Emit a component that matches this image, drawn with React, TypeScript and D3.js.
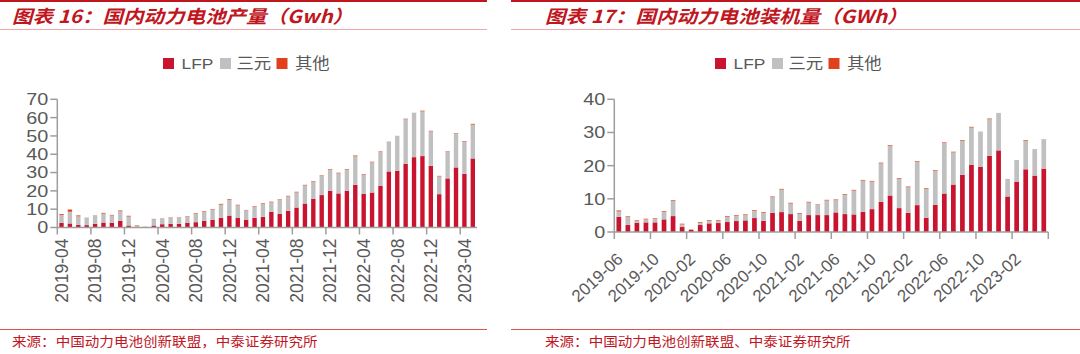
import React from 'react';
import * as d3 from 'd3';

// ---------- Chart 16: production ----------
const prodMonths = [
  '2019-04','2019-05','2019-06','2019-07','2019-08','2019-09','2019-10','2019-11','2019-12',
  '2020-01','2020-02','2020-03','2020-04','2020-05','2020-06','2020-07','2020-08','2020-09','2020-10','2020-11','2020-12',
  '2021-01','2021-02','2021-03','2021-04','2021-05','2021-06','2021-07','2021-08','2021-09','2021-10','2021-11','2021-12',
  '2022-01','2022-02','2022-03','2022-04','2022-05','2022-06','2022-07','2022-08','2022-09','2022-10','2022-11','2022-12',
  '2023-01','2023-02','2023-03','2023-04','2023-05',
];
const prodLFP = [
  2.6, 2.2, 1.5, 1.3, 2.0, 2.7, 2.6, 3.6, 1.1,
  0.3, 0.2, 1.1, 1.8, 2.0, 2.0, 2.6, 2.9, 3.6, 4.2, 5.3, 6.5,
  5.2, 4.3, 5.3, 5.8, 8.5, 7.5, 9.1, 10.9, 13.1, 15.7, 17.7, 20.0,
  18.6, 20.0, 23.3, 18.4, 19.1, 22.8, 30.6, 31.0, 34.8, 38.4, 39.0, 33.7,
  18.2, 26.8, 32.8, 29.3, 37.7,
];
const prodTernary = [
  4.2, 6.4, 4.6, 4.2, 4.6, 4.9, 4.0, 5.3, 4.9,
  0.5, 0.3, 3.4, 2.9, 3.3, 3.3, 3.4, 4.6, 5.0, 5.5, 7.2, 8.5,
  6.9, 5.1, 6.0, 7.2, 5.3, 7.5, 7.9, 8.3, 9.9, 9.3, 10.4, 11.6,
  11.0, 11.6, 15.6, 10.4, 16.5, 18.4, 16.4, 19.1, 24.3, 24.3, 24.4, 18.8,
  9.7, 14.4, 18.3, 17.6, 18.5,
];
const prodOther = [
  0.5, 1.2, 0.5, 0.0, 0.1, 0.4, 0.3, 0.4, 0.4,
  0.3, 0.0, 0.2, 0.2, 0.2, 0.2, 0.2, 0.3, 0.3, 0.3, 0.4, 0.4,
  0.3, 0.2, 0.3, 0.3, 0.3, 0.3, 0.3, 0.3, 0.3, 0.3, 0.3, 0.3,
  0.3, 0.3, 0.4, 0.3, 0.3, 0.3, 0.0, 0.0, 0.3, 0.0, 0.4, 0.3,
  0.3, 0.3, 0.3, 0.3, 0.4,
];
const prodTickLabels = [
  '2019-04','2019-08','2019-12','2020-04','2020-08','2020-12','2021-04',
  '2021-08','2021-12','2022-04','2022-08','2022-12','2023-04',
];
const prodYTicks = [0, 10, 20, 30, 40, 50, 60, 70];

// ---------- Chart 17: installation ----------
const instMonths = [
  '2019-06','2019-07','2019-08','2019-09','2019-10','2019-11','2019-12',
  '2020-01','2020-02','2020-03','2020-04','2020-05','2020-06','2020-07','2020-08','2020-09','2020-10','2020-11','2020-12',
  '2021-01','2021-02','2021-03','2021-04','2021-05','2021-06','2021-07','2021-08','2021-09','2021-10','2021-11','2021-12',
  '2022-01','2022-02','2022-03','2022-04','2022-05','2022-06','2022-07','2022-08','2022-09','2022-10','2022-11','2022-12',
  '2023-01','2023-02','2023-03','2023-04','2023-05',
];
const instLFP = [
  4.6, 2.1, 2.8, 2.9, 2.9, 3.8, 4.8,
  1.5, 0.6, 2.1, 2.6, 2.7, 3.0, 3.3, 3.5, 4.2, 3.4, 5.8, 6.0,
  5.4, 3.4, 5.1, 5.1, 5.1, 5.9, 5.4, 5.3, 6.1, 6.9, 9.1, 11.0,
  7.2, 5.8, 8.1, 4.3, 8.2, 11.6, 14.3, 17.2, 20.3, 19.7, 23.0, 24.6,
  10.7, 15.2, 18.9, 17.0, 19.1,
];
const instTernary = [
  1.6, 2.4, 0.5, 0.9, 1.0, 2.3, 4.6,
  0.8, 0.1, 0.7, 0.8, 0.7, 1.6, 1.6, 1.6, 2.2, 2.4, 4.7, 6.8,
  3.2, 2.1, 3.8, 3.2, 4.4, 3.7, 5.8, 7.2, 9.4, 8.3, 11.6, 15.0,
  8.8, 7.7, 13.0, 8.7, 10.2, 15.2, 9.7, 10.3, 11.2, 10.6, 11.0, 11.3,
  5.3, 6.5, 8.6, 8.0, 8.9,
];
const instOther = [
  0.3, 0.2, 0.2, 0.2, 0.2, 0.2, 0.2,
  0.2, 0.1, 0.2, 0.2, 0.2, 0.2, 0.2, 0.2, 0.2, 0.2, 0.2, 0.2,
  0.2, 0.2, 0.2, 0.1, 0.2, 0.2, 0.2, 0.2, 0.2, 0.2, 0.2, 0.2,
  0.2, 0.2, 0.2, 0.2, 0.2, 0.2, 0.2, 0.2, 0.2, 0.0, 0.2, 0.0,
  0.0, 0.0, 0.2, 0.0, 0.0,
];
const instTickLabels = [
  '2019-06','2019-10','2020-02','2020-06','2020-10','2021-02',
  '2021-06','2021-10','2022-02','2022-06','2022-10','2023-02',
];
const instYTicks = [0, 10, 20, 30, 40];

const seriesNames = ['LFP', '三元', '其他'];
const seriesColors: Record<string, string> = { 'LFP': '#C8142F', '三元': '#C0C0C0', '其他': '#E2401C' };

const RED = '#C0161E';
const GREY_TEXT = '#595959';
const AXIS = '#9E9E9E';
const CJK = '"Noto Sans CJK SC", "Liberation Sans", Arial, sans-serif';
const LATIN = '"Liberation Sans", Arial, sans-serif';

function SText({ x, y, sx = 1.15, children, ...rest }: any) {
  return (
    <text transform={`translate(${x},${y}) scale(${sx},1)`} {...rest}>
      {children}
    </text>
  );
}

function Legend({ x0, cy }: { x0: number; cy: number }) {
  const items = [
    { name: 'LFP', sq: 0, tx: 18.5 },
    { name: '三元', sq: 57, tx: 73.5 },
    { name: '其他', sq: 113.5, tx: 132 },
  ];
  const sq = 11;
  return (
    <g>
      {items.map((it) => (
        <g key={it.name}>
          <rect x={x0 + it.sq} y={cy - sq / 2} width={sq} height={sq} fill={seriesColors[it.name]} />
          <SText x={x0 + it.tx} y={cy + 5.5} sx={1.12} fontSize={15.5} fill={GREY_TEXT}
            fontFamily={it.name === 'LFP' ? LATIN : CJK}>{it.name}</SText>
        </g>
      ))}
    </g>
  );
}

function BarChart(props: any) {
  const { months, lfp, tern, other, yMax, yTicks, tickLabels, left, right, top, bottom, labelMode } = props;
  const x = d3.scaleBand<string>().domain(months).range([left, right]).paddingInner(0.48).paddingOuter(0.24);
  const y = d3.scaleLinear().domain([0, yMax]).range([bottom, top]);
  const rows = months.map((m: string, i: number) => ({ m, 'LFP': lfp[i], '三元': tern[i], '其他': other[i] }));
  const stacked = d3.stack<any>().keys(seriesNames)(rows);
  const step = x.step();
  const slotStart = (i: number) => left + i * step;
  const tickIdx: number[] = [];
  for (let i = 0; i <= months.length; i += 4) tickIdx.push(i);
  const labelSet = new Set(tickLabels);
  return (
    <g>
      {stacked.map((s: any) => (
        <g key={s.key} fill={seriesColors[s.key]}>
          {s.map((d: any, i: number) => {
            const h = y(d[0]) - y(d[1]);
            if (h <= 0) return null;
            return <rect key={i} x={x(d.data.m)} y={y(d[1])} width={x.bandwidth()} height={h} />;
          })}
        </g>
      ))}
      <line x1={left} x2={left} y1={top} y2={bottom} stroke={AXIS} strokeWidth={1.5} />
      {yTicks.map((t: number) => (
        <g key={t}>
          <line x1={left - 7} x2={left} y1={y(t)} y2={y(t)} stroke={AXIS} strokeWidth={1.5} />
          <SText x={left - 9} y={y(t)} dy="0.36em" sx={1.2} textAnchor="end" fontSize={16.5}
            fill={GREY_TEXT} fontFamily={LATIN}>{t}</SText>
        </g>
      ))}
      <line x1={left} x2={right} y1={bottom} y2={bottom} stroke={AXIS} strokeWidth={1.5} />
      {tickIdx.map((i) => (
        <line key={i} x1={slotStart(i)} x2={slotStart(i)} y1={bottom} y2={bottom + 7} stroke={AXIS} strokeWidth={1.5} />
      ))}
      {months.map((m: string) => {
        if (!labelSet.has(m)) return null;
        const cx = (x(m) as number) + x.bandwidth() / 2;
        if (labelMode === 'vertical') {
          return (
            <text key={m} transform={`translate(${cx},${bottom + 11}) rotate(-90)`} dy="0.36em"
              textAnchor="end" fontSize={17.5} fill={GREY_TEXT} fontFamily={LATIN}>{m}</text>
          );
        }
        return (
          <text key={m} transform={`translate(${cx + 1},${bottom + 24}) rotate(-43)`} dy="0.36em"
            textAnchor="end" fontSize={17} fill={GREY_TEXT} fontFamily={LATIN}>{m}</text>
        );
      })}
    </g>
  );
}

function Frame({ x0, x1, title, source, titleX }: any) {
  return (
    <g>
      <rect x={x0} y={0} width={x1 - x0} height={2} fill={RED} />
      <line x1={x0} x2={x1} y1={29.5} y2={29.5} stroke="#F2A6A6" strokeWidth={1} />
      <SText x={titleX} y={23} sx={1.14} fontSize={18} fontWeight="bold" fontStyle="italic" fill={RED}
        fontFamily={CJK}>{title}</SText>
      <line x1={x0} x2={x1} y1={329.5} y2={329.5} stroke="#E0504D" strokeWidth={1} />
      <SText x={titleX} y={346} sx={1.12} fontSize={13} fill={RED} fontFamily={CJK}>{source}</SText>
    </g>
  );
}

export default function App() {
  return (
    <svg width={1080} height={354} style={{ position: 'absolute', left: 0, top: 0, background: '#fff' }}
      xmlns="http://www.w3.org/2000/svg">
      <rect x={0} y={0} width={1080} height={354} fill="#fff" />
      <Frame x0={0} x1={487} titleX={12} title="图表 16：国内动力电池产量（Gwh）"
        source="来源：中国动力电池创新联盟，中泰证券研究所" />
      <Frame x0={511} x1={1080} titleX={545} title="图表 17：国内动力电池装机量（GWh）"
        source="来源：中国动力电池创新联盟、中泰证券研究所" />
      <Legend x0={163} cy={63.5} />
      <Legend x0={715} cy={63.5} />
      <BarChart months={prodMonths} lfp={prodLFP} tern={prodTernary} other={prodOther}
        yMax={70} yTicks={prodYTicks} tickLabels={prodTickLabels}
        left={57.3} right={477} top={99.3} bottom={227.5} labelMode="vertical" />
      <BarChart months={instMonths} lfp={instLFP} tern={instTernary} other={instOther}
        yMax={40} yTicks={instYTicks} tickLabels={instTickLabels}
        left={614.3} right={1048.3} top={99.3} bottom={232} labelMode="diag" />
    </svg>
  );
}
